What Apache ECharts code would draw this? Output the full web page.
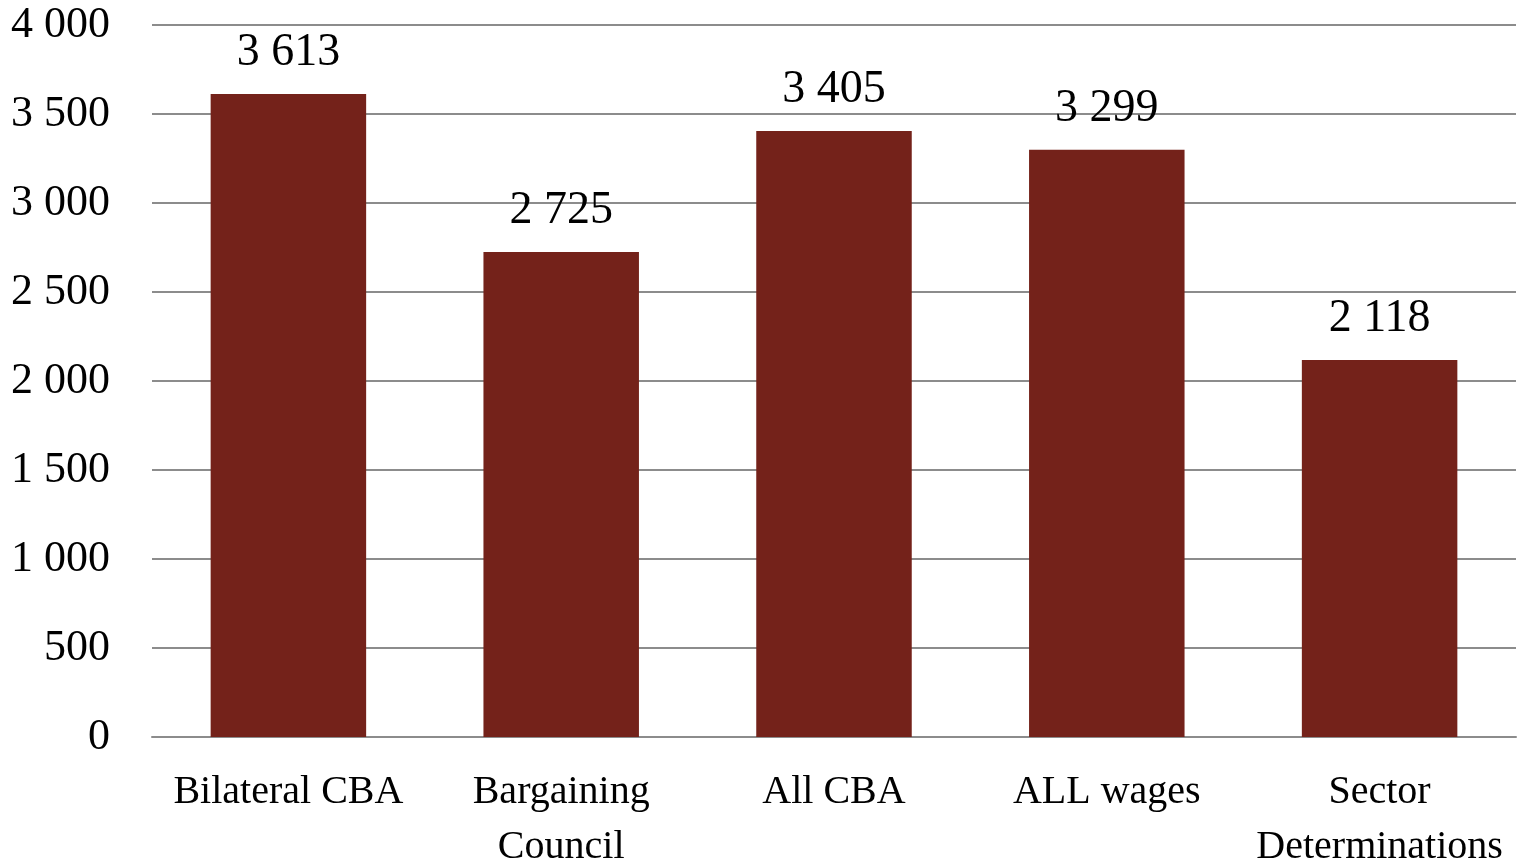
<!DOCTYPE html>
<html>
<head>
<meta charset="utf-8">
<script src="https://cdn.jsdelivr.net/npm/echarts@6/dist/echarts.min.js"></script>
<style>
	html, body { margin: 0; padding: 0; background: #fff; }
	#chart { width: 1526px; height: 863px; }
</style>
</head>
<body>
<div id="chart"></div>
<script>
	const categories = ['Bilateral CBA', 'Bargaining\nCouncil', 'All CBA', 'ALL wages', 'Sector\nDeterminations']
	const values = [3613, 2725, 3405, 3299, 2118]
	const yMin = 0
	const yMax = 4000
	const yStep = 500

	// thousands with a space, like "3 613"
	const fmt = (v) => String(v).replace(/\B(?=(\d{3})+(?!\d))/g, ' ')
	const font = '"Liberation Serif", "DejaVu Serif", serif'

	const myChart = echarts.init(document.getElementById('chart'))
	const option = {
		animation: false,
		grid: {
			left: 152,
			right: 10,
			top: 25,
			bottom: 126,
			containLabel: false,
			outerBoundsMode: 'none'
		},
		xAxis: {
			type: 'category',
			data: categories,
			axisLine: { lineStyle: { color: '#8c8c8c', width: 2 } },
			axisTick: { show: false },
			axisLabel: {
				color: '#000',
				fontFamily: font,
				fontSize: 40,
				lineHeight: 55,
				margin: 28,
				interval: 0
			}
		},
		yAxis: {
			type: 'value',
			min: yMin,
			max: yMax,
			interval: yStep,
			axisLine: { show: false },
			axisTick: { show: false },
			axisLabel: {
				color: '#000',
				fontFamily: font,
				fontSize: 44,
				margin: 42,
				formatter: fmt
			},
			splitLine: { lineStyle: { color: '#8c8c8c', width: 2 } }
		},
		series: [
			{
				type: 'bar',
				data: values,
				barWidth: '57%',
				itemStyle: { color: '#74221a' },
				label: {
					show: true,
					position: 'top',
					distance: 18,
					color: '#000',
					fontFamily: font,
					fontSize: 46,
					formatter: (p) => fmt(p.value)
				}
			}
		]
	}
	myChart.setOption(option)
</script>
</body>
</html>
